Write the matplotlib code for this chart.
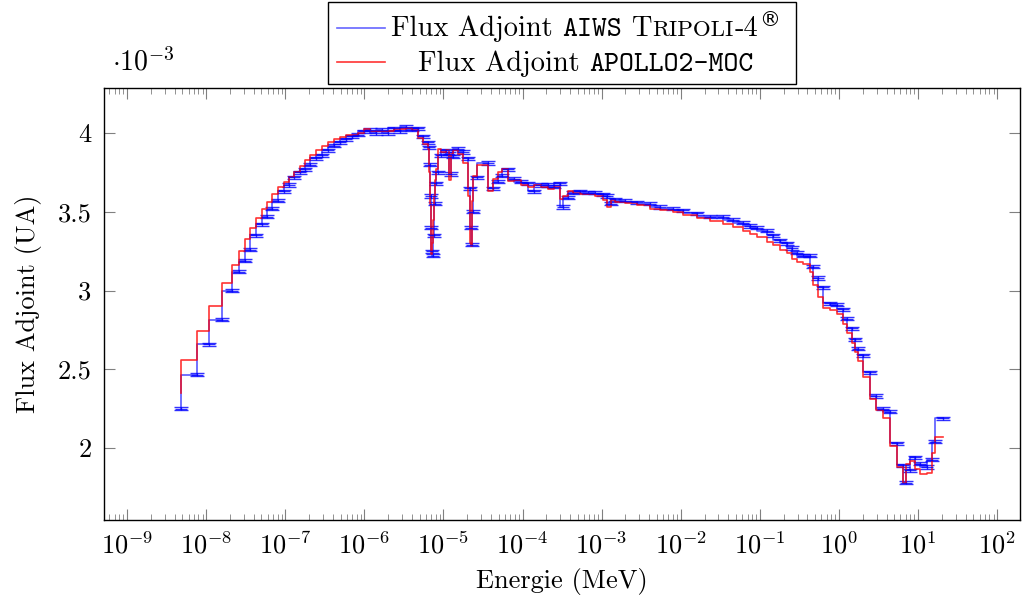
import numpy as np
import matplotlib.pyplot as plt
from matplotlib.patches import Rectangle
from matplotlib.lines import Line2D
from matplotlib.ticker import LogLocator, NullFormatter
from matplotlib.transforms import IdentityTransform

plt.rcParams['font.family'] = 'cmr10'
plt.rcParams['mathtext.fontset'] = 'cm'
plt.rcParams['axes.formatter.use_mathtext'] = True

# energy points (MeV), same group structure for both codes
energy = [
    4.82e-9, 7.60e-9, 1.10e-8, 1.57e-8, 2.11e-8, 2.63e-8, 3.11e-8, 3.62e-8, 4.28e-8, 5.05e-8,
    5.89e-8, 6.87e-8, 8.04e-8, 9.57e-8, 1.12e-7, 1.30e-7, 1.54e-7, 1.78e-7, 2.06e-7, 2.45e-7,
    2.92e-7, 3.48e-7, 4.14e-7, 4.93e-7, 5.87e-7, 7.00e-7, 8.32e-7, 9.91e-7, 1.18e-6, 1.41e-6,
    1.68e-6, 2.00e-6, 2.37e-6, 2.82e-6, 3.36e-6, 4.01e-6, 4.78e-6, 5.52e-6, 6.38e-6,
    6.58e-6, 6.78e-6, 6.90e-6, 7.03e-6, 7.18e-6, 7.33e-6, 7.50e-6, 7.73e-6, 8.05e-6, 8.55e-6, 9.33e-6,
    1.08e-5, 1.18e-5, 1.25e-5, 1.32e-5, 1.53e-5, 1.77e-5, 2.05e-5, 2.17e-5, 2.23e-5, 2.30e-5,
    2.37e-5, 2.66e-5, 3.66e-5, 4.24e-5, 4.90e-5, 5.51e-5, 6.56e-5, 7.82e-5, 9.57e-5, 1.17e-4,
    1.40e-4, 1.71e-4, 2.10e-4, 2.50e-4, 2.98e-4, 3.25e-4, 3.76e-4, 4.35e-4, 5.33e-4, 6.73e-4,
    8.26e-4, 1.04e-3, 1.17e-3, 1.32e-3, 1.48e-3, 1.98e-3, 2.81e-3, 4.09e-3, 5.47e-3, 8.00e-3,
    1.07e-2, 1.61e-2, 2.35e-2, 3.43e-2, 4.58e-2, 6.14e-2, 7.52e-2, 9.23e-2, 0.123, 0.147,
    0.180, 0.221, 0.255, 0.295, 0.352, 0.432, 0.471, 0.545, 0.630, 0.773,
    0.946, 1.13, 1.26, 1.47, 1.60, 1.74, 2.02, 2.47, 2.94, 3.61,
    4.43, 5.43, 6.46, 7.05, 7.93, 9.16, 10.6, 13.0, 15.0, 16.4,
    20.7]

# flux adjoint, units of 1e-3
tripoli = [
    2.25, 2.465, 2.66, 2.815, 3.00, 3.12, 3.19, 3.26, 3.35, 3.42,
    3.47, 3.52, 3.57, 3.63, 3.67, 3.72, 3.75, 3.77, 3.80, 3.84,
    3.86, 3.89, 3.92, 3.94, 3.96, 3.98, 3.99, 4.01, 4.02, 4.00,
    4.02, 4.00, 4.03, 4.01, 4.04, 4.02, 4.03, 3.98, 3.94,
    3.91, 3.80, 3.60, 3.40, 3.25, 3.22, 3.35, 3.55, 3.68, 3.75, 3.86,
    3.89, 3.87, 3.74, 3.85, 3.90, 3.88, 3.84, 3.65, 3.40, 3.29,
    3.50, 3.72, 3.81, 3.65, 3.69, 3.73, 3.77, 3.71, 3.69, 3.68,
    3.63, 3.67, 3.67, 3.66, 3.68, 3.53, 3.59, 3.62, 3.63, 3.62,
    3.62, 3.61, 3.60, 3.55, 3.58, 3.57, 3.56, 3.55, 3.53, 3.52,
    3.51, 3.49, 3.47, 3.47, 3.45, 3.43, 3.41, 3.40, 3.38, 3.35,
    3.32, 3.30, 3.27, 3.24, 3.22, 3.22, 3.15, 3.08, 3.02, 2.92,
    2.91, 2.88, 2.82, 2.76, 2.69, 2.63, 2.59, 2.48, 2.33, 2.25,
    2.23, 2.03, 1.89, 1.78, 1.86, 1.94, 1.90, 1.88, 1.925, 2.04,
    2.19]
tripoli_err = 0.01

apollo = [
    2.35, 2.56, 2.74, 2.90, 3.05, 3.16, 3.25, 3.33, 3.40, 3.46,
    3.52, 3.56, 3.61, 3.655, 3.69, 3.72, 3.75, 3.79, 3.83, 3.86,
    3.89, 3.92, 3.94, 3.96, 3.975, 3.985, 3.99, 4.00, 4.025, 4.01,
    4.01, 4.01, 4.015, 4.025, 4.025, 4.03, 4.02, 3.97, 3.93,
    3.90, 3.75, 3.55, 3.35, 3.23, 3.30, 3.45, 3.60, 3.70, 3.77, 3.90,
    3.88, 3.89, 3.70, 3.87, 3.89, 3.87, 3.81, 3.60, 3.30, 3.28,
    3.57, 3.73, 3.80, 3.63, 3.71, 3.75, 3.77, 3.695, 3.70, 3.67,
    3.655, 3.67, 3.66, 3.645, 3.66, 3.58, 3.60, 3.63, 3.62, 3.61,
    3.61, 3.60, 3.575, 3.53, 3.575, 3.565, 3.555, 3.54, 3.52, 3.51,
    3.50, 3.48, 3.46, 3.44, 3.42, 3.405, 3.38, 3.36, 3.34, 3.31,
    3.29, 3.26, 3.24, 3.20, 3.18, 3.17, 3.12, 3.035, 2.96, 2.89,
    2.875, 2.85, 2.79, 2.73, 2.67, 2.61, 2.55, 2.45, 2.31, 2.24,
    2.19, 2.01, 1.88, 1.775, 1.90, 1.92, 1.87, 1.835, 1.84, 1.97,
    2.07]

yticks = [2, 2.5, 3, 3.5, 4]
ytick_labels = ['2', '2.5', '3', '3.5', '4']

fig = plt.figure(figsize=(10.23, 6.06), dpi=100)
ax = fig.add_axes([104 / 1023, 86 / 606, 916 / 1023, 432 / 606])

ax.plot(energy, tripoli, drawstyle='steps-pre', color='blue', alpha=0.65, lw=1.2)
ax.errorbar(energy, tripoli, yerr=tripoli_err, fmt='_', color='blue', ms=9, mew=1.0,
            capsize=5, elinewidth=1, capthick=1.0, alpha=0.8)
ax.plot(energy, apollo, drawstyle='steps-pre', color='red', alpha=0.8, lw=1.2)

ax.set_xscale('log')
ax.set_xlim(10 ** -9.291, 10 ** 2.289)
ax.set_ylim(1.543, 4.286)
ax.set_xticks(10.0 ** np.arange(-9, 3))
ax.xaxis.set_minor_locator(LogLocator(base=10, subs=np.arange(2, 10), numticks=40))
ax.xaxis.set_minor_formatter(NullFormatter())
ax.set_yticks(yticks)
ax.set_yticklabels(ytick_labels)
ax.tick_params(which='both', direction='in', top=True, right=True, color='0.5', labelsize=19)
ax.tick_params(which='major', length=8, width=0.8)
ax.tick_params(which='minor', length=4.5, width=0.6)
ax.tick_params(axis='x', pad=8)
ax.tick_params(axis='y', pad=9)
for s in ax.spines.values():
    s.set_linewidth(1.0)

ax.set_xlabel('Energie (MeV)', fontsize=19, labelpad=7)
ax.set_ylabel('Flux Adjoint (UA)', fontsize=19, labelpad=11)
ax.text(0.009, 1.04, r'$\cdot 10^{-3}$', transform=ax.transAxes, fontsize=20, va='baseline')

# legend drawn by hand (mixed fonts / small caps)
px = IdentityTransform()
fig.add_artist(Rectangle((328, 522), 468, 82, transform=px, facecolor='white',
                         edgecolor='black', lw=1.0, zorder=5))
fig.add_artist(Line2D([337, 385], [578.3, 578.3], transform=px, color='blue', alpha=0.6, lw=1.2, zorder=6))
fig.add_artist(Line2D([337, 385], [543.7, 543.7], transform=px, color='red', alpha=0.8, lw=1.2, zorder=6))

renderer = fig.canvas.get_renderer()


def legend_row(pieces, y, xc):
    # pieces: (text, family, size, raise_px, gap_px)
    items = []
    total = 0
    for s, fam, size, dy, gap in pieces:
        t = fig.text(0, y + dy, s, family=fam, fontsize=size, transform=px,
                     va='baseline', ha='left', zorder=6)
        w = t.get_window_extent(renderer).width
        items.append((t, gap, w))
        total += gap + w
    x = xc - total / 2
    for t, gap, w in items:
        x += gap
        t.set_x(x)
        x += w


legend_row([('Flux Adjoint', 'cmr10', 20.5, 0, 0),
            ('AIWS', 'cmtt10', 20.5, 0, 9.5),
            ('T', 'cmr10', 20.5, 0, 9.5),
            ('RIPOLI', 'cmr10', 16.5, 0, 0.5),
            ('-4', 'cmr10', 20.5, 0, 0.5),
            ('®', 'DejaVu Sans', 15, 10, 1)], 570, 585.5)
legend_row([('Flux Adjoint', 'cmr10', 20.5, 0, 0),
            ('APOLLO2-MOC', 'cmtt10', 20.5, 0, 9.5)], 535, 585.5)

fig.savefig('out.png', dpi=100)
